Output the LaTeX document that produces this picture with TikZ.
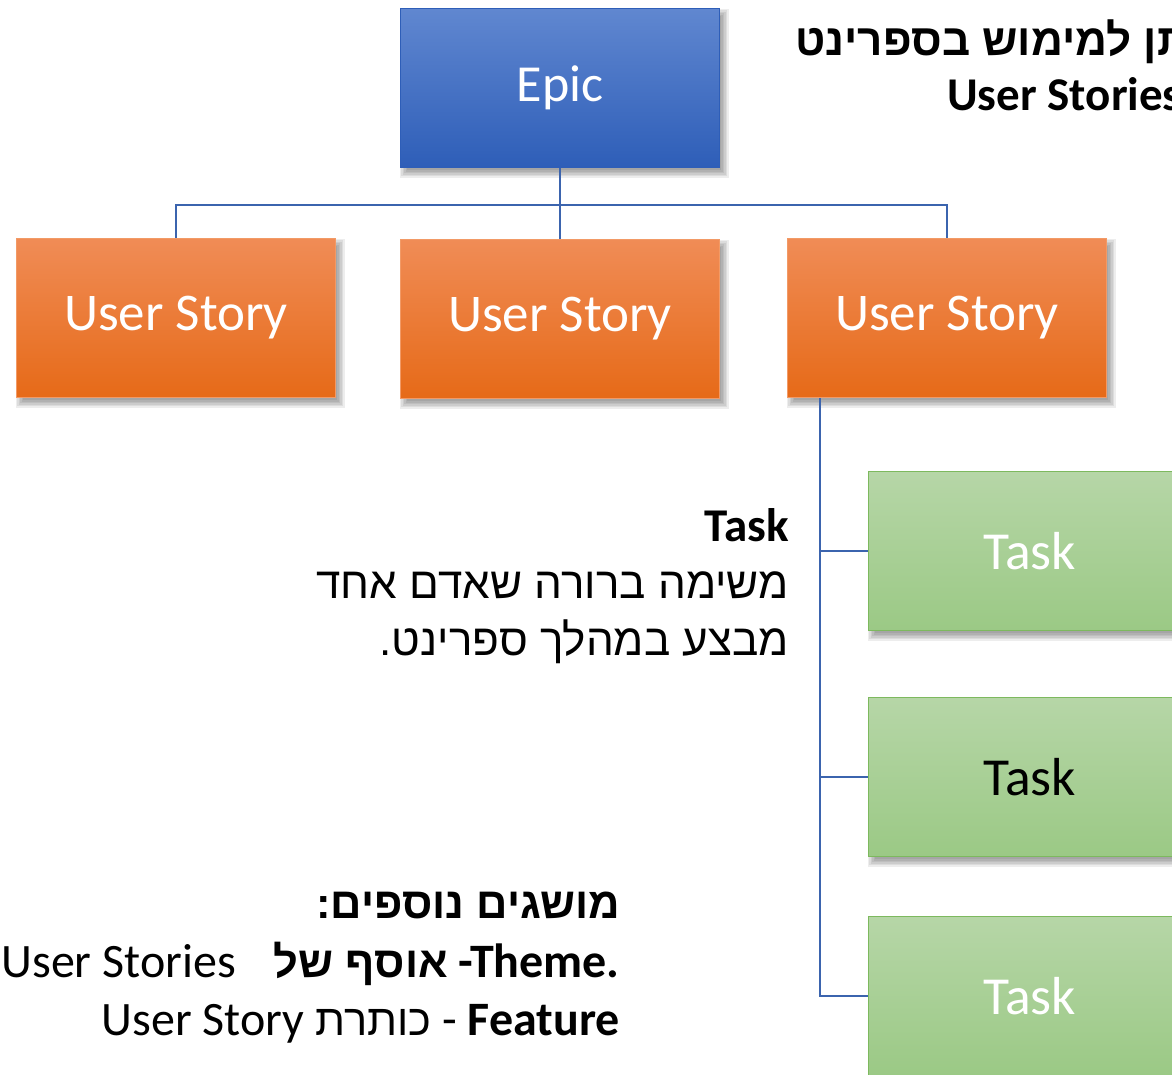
\documentclass[tikz,border=0pt]{standalone}
\usepackage{fontspec}
\setmainfont{Carlito}
\newfontfamily\heb[Script=Hebrew]{Liberation Sans}
\TeXXeTstate=1
\usetikzlibrary{calc,backgrounds}
\definecolor{epicTop}{HTML}{6087D0}
\definecolor{epicBot}{HTML}{2E5EB8}
\definecolor{usTop}{HTML}{F08C56}
\definecolor{usBot}{HTML}{E66A18}
\definecolor{usLine}{HTML}{F29A66}
\definecolor{tkTop}{HTML}{B6D6A7}
\definecolor{tkBot}{HTML}{9BC985}
\definecolor{tkLine}{HTML}{7DB95E}
\definecolor{connBlue}{HTML}{3B64AE}
\newcommand\softshade[1]{%
  \begin{pgfonlayer}{background}
  \foreach \s in {-3,-1.5,0,1.5,3,4.5}{
    \fill[black, opacity=0.07] ($(#1.north west)+(4-\s,5-\s)$) rectangle ($(#1.south east)+(4+\s,5+\s)$);
  }
  \end{pgfonlayer}}
\begin{document}
\begin{tikzpicture}[x=1pt,y=-1pt,
  box/.style={minimum width=319pt, minimum height=159pt, inner sep=0pt, anchor=north west, line width=1pt},
  epicbox/.style={box, top color=epicTop, bottom color=epicBot, draw=epicBot, text=white, font=\fontsize{52}{60}\selectfont},
  usbox/.style={box, top color=usTop, bottom color=usBot, draw=usLine, text=white, font=\fontsize{53}{60}\selectfont},
  taskbox/.style={box, minimum width=322pt, top color=tkTop, bottom color=tkBot, draw=tkLine, font=\fontsize{53.5}{60}\selectfont},
  conn/.style={draw=connBlue, line width=2.4pt},
  txt/.style={inner sep=0pt, text=black, font=\fontsize{48}{55}\selectfont}]
\useasboundingbox (0,0) rectangle (1172,1074);

% boxes
\node[epicbox] (epic) at (400,8) {Epic};
\node[usbox] (us1) at (16,238) {User Story};
\node[usbox] (us2) at (400,239) {User Story};
\node[usbox] (us3) at (787,238) {User Story};
\node[taskbox, text=white] (t1) at (868,471) {Task};
\node[taskbox, text=black] (t2) at (868,697) {Task};
\node[taskbox, text=white] (t3) at (868,916) {Task};
\softshade{epic}
\softshade{us1}
\softshade{us2}
\softshade{us3}
\softshade{t1}
\softshade{t2}
\softshade{t3}

% connectors
\coordinate (bus) at (560,205);
\coordinate (trunk) at (820,397);
\draw[conn] (epic.south) -- (epic.south |- bus);
\draw[conn] (us1.north) |- (bus) -| (us3.north);
\draw[conn] (us2.north) -- (us2.north |- bus);
\draw[conn] (us3.south -| trunk) -- (trunk |- t3.west) -- (t3.west);
\draw[conn] (trunk |- t1.west) -- (t1.west);
\draw[conn] (trunk |- t2.west) -- (t2.west);

% top-right text
\node[txt, anchor=base west, font=\heb\bfseries\fontsize{44}{55}\selectfont] (hdr1) at (795,55) {\beginR תן למימוש בספרינט\endR};
\node[txt, anchor=base west, font=\bfseries\fontsize{47}{55}\selectfont] (hdr2) at (947,110) {User Stories};

% task description
\node[txt, anchor=base east, font=\bfseries\fontsize{47}{55}\selectfont] (dT) at (789,541) {Task};
\node[txt, anchor=base east, font=\heb\fontsize{44}{55}\selectfont] (d1) at (789,598) {\beginR משימה ברורה שאדם אחד\endR};
\node[txt, anchor=base east, font=\heb\fontsize{44}{55}\selectfont] (d2) at (789,655) {\beginR מבצע במהלך ספרינט.\endR};

% bottom terms
\node[txt, anchor=base east, font=\heb\bfseries\fontsize{43.5}{55}\selectfont] (b1) at (620,918) {\beginR מושגים נוספים:\endR};
\node[txt, anchor=base east] (b2) at (620,977) {User Stories\hspace{38pt}{\heb\bfseries\fontsize{43.5}{55}\selectfont\beginR אוסף של\endR}\textbf{ -Theme.}};
\node[txt, anchor=base east] (b3) at (620,1035) {User Story {\heb\fontsize{43.5}{55}\selectfont\beginR כותרת\endR} - \textbf{Feature}};
\end{tikzpicture}
\end{document}
